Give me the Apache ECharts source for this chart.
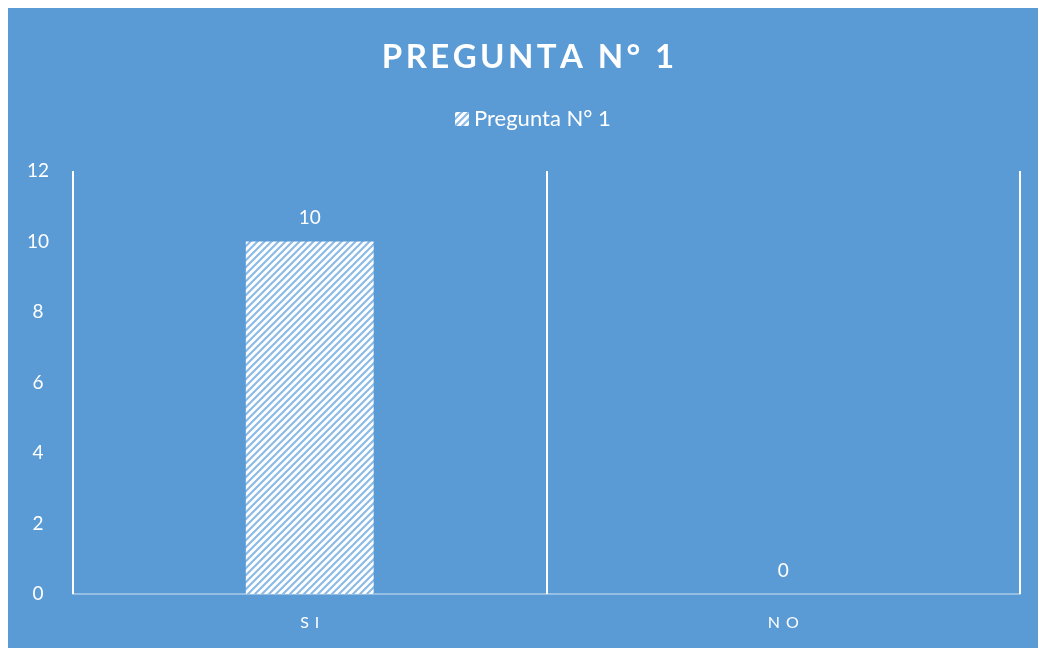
<!DOCTYPE html>
<html>
<head>
<meta charset="utf-8">
<script src="https://cdn.jsdelivr.net/npm/echarts@6/dist/echarts.min.js"></script>
<style>
html,body{margin:0;padding:0;background:#ffffff;}
#c{position:absolute;left:8px;top:8px;width:1030px;height:640px;background:#5B9BD5;}
</style>
</head>
<body>
<div id="c"></div>
<script>
const titleText = 'PREGUNTA N° 1';
const seriesName = 'Pregunta N° 1';
const categories = ['SI', 'NO'];
const values = [10, 0];
const yTicks = [0, 2, 4, 6, 8, 10, 12];

// letter spacing for specific texts (title and category labels): draw them glyph by glyph
const letterSpacing = { [titleText]: 3.4, 'SI': 6, 'NO': 6 };
(function () {
  const orig = CanvasRenderingContext2D.prototype.fillText;
  CanvasRenderingContext2D.prototype.fillText = function (t, x, y, mw) {
    const sp = letterSpacing[t];
    if (sp) {
      const a = this.textAlign;
      const chars = Array.from(t);
      const widths = chars.map(c => this.measureText(c).width);
      const total = widths.reduce((p, q) => p + q, 0) + sp * (chars.length - 1);
      const w0 = this.measureText(t).width;
      let start;
      if (a === 'center') start = x - total / 2;
      else if (a === 'right' || a === 'end') start = x - w0 / 2 - total / 2;
      else start = x + w0 / 2 - total / 2;
      this.textAlign = 'left';
      let cx = start;
      for (let i = 0; i < chars.length; i++) {
        orig.call(this, chars[i], cx, y);
        cx += widths[i] + sp;
      }
      this.textAlign = a;
      return;
    }
    return mw === undefined ? orig.call(this, t, x, y) : orig.call(this, t, x, y, mw);
  };
})();

function makePattern() {
  const s = 7;
  const cv = document.createElement('canvas');
  cv.width = s; cv.height = s;
  const ctx = cv.getContext('2d');
  ctx.fillStyle = '#ffffff';
  ctx.fillRect(0, 0, s, s);
  ctx.strokeStyle = '#8dbbe6';
  ctx.lineWidth = 2.2;
  ctx.beginPath();
  ctx.moveTo(-1, s + 1); ctx.lineTo(s + 1, -1);
  ctx.moveTo(-1, 1); ctx.lineTo(1, -1);
  ctx.moveTo(s - 1, s + 1); ctx.lineTo(s + 1, s - 1);
  ctx.stroke();
  return cv;
}
const pattern = { image: makePattern(), repeat: 'repeat' };

const chart = echarts.init(document.getElementById('c'), null, { renderer: 'canvas' });
const font = 'Lato, "Open Sans", sans-serif';
chart.setOption({
  backgroundColor: '#5B9BD5',
  animation: false,
  textStyle: { fontFamily: font },
  title: {
    text: titleText,
    left: 515,
    textAlign: 'center',
    top: 28,
    textStyle: { color: '#ffffff', fontSize: 33, fontWeight: 'bold', fontFamily: font }
  },
  legend: {
    data: [seriesName],
    top: 95,
    left: 442,
    icon: 'rect',
    itemWidth: 14,
    itemHeight: 14,
    itemGap: 6,
    textStyle: { color: '#ffffff', fontSize: 22, fontFamily: font }
  },
  grid: { left: 65, right: 18, top: 163, bottom: 54, containLabel: false },
  xAxis: {
    type: 'category',
    data: categories,
    axisLine: { show: true, lineStyle: { color: 'rgba(255,255,255,0.35)', width: 2 } },
    axisTick: { show: false },
    splitLine: { show: true, lineStyle: { color: '#ffffff', width: 2 } },
    axisLabel: { color: '#ffffff', fontSize: 16, margin: 21, fontFamily: font }
  },
  yAxis: {
    type: 'value',
    min: yTicks[0],
    max: yTicks[yTicks.length - 1],
    interval: yTicks[1] - yTicks[0],
    axisLine: { show: false },
    axisTick: { show: false },
    splitLine: { show: false },
    axisLabel: { color: '#ffffff', fontSize: 19, margin: 35, align: 'center', fontFamily: font }
  },
  series: [{
    name: seriesName,
    type: 'bar',
    data: values,
    barWidth: '27%',
    itemStyle: { color: pattern },
    label: { show: true, position: 'top', distance: 14, color: '#ffffff', fontSize: 19, fontFamily: font }
  }]
});
</script>
</body>
</html>
